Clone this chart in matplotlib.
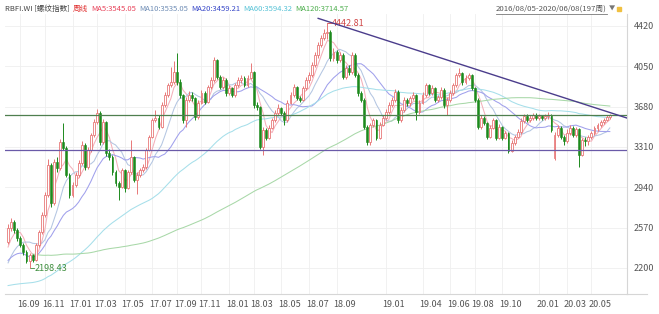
import numpy as np
import pandas as pd
import matplotlib
matplotlib.use("Agg")
import matplotlib.pyplot as plt

plt.rcParams['font.family'] = ['Noto Sans CJK SC', 'DejaVu Sans']

# weekly closes before the first visible bar (only used for the long MAs)
hist_close = [3050, 3030, 3000, 2980, 2990, 2970, 2950, 2930, 2900,
              2900, 2920, 2940, 2950, 2920, 2900,
              3000, 2980, 2950, 2900, 2850, 2780, 2700, 2650,
              2620, 2600, 2580, 2560, 2520, 2500, 2480, 2510,
              2480, 2450, 2470, 2440, 2420, 2400, 2380, 2390, 2360,
              2340, 2320, 2300, 2320, 2350, 2400, 2420, 2450, 2480, 2440, 2400,
              2350, 2300, 2280, 2250, 2200, 2180, 2150, 2120,
              2100, 2080, 2120, 2100, 2060, 2040, 2000, 1980, 1960,
              1930, 1900, 1880, 1860, 1850, 1820, 1800, 1780,
              1760, 1720, 1700, 1680, 1660, 1680, 1700, 1720,
              1740, 1760, 1780, 1790, 1800, 1830, 1880,
              1950, 2050, 2150, 2200, 2300, 2450, 2600, 2550,
              2350, 2200, 2050, 2000, 2050, 2100, 2150, 2200,
              2250, 2320, 2380, 2440]

close = [2566, 2620, 2547, 2474, 2410, 2345, 2263, 2318, 2272, 2410,
         2529, 2685, 2869, 3144, 2795, 3172, 3117, 3355, 3300, 3052,
         2869, 2960, 3052, 3162, 3328, 3126, 3282, 3419, 3539, 3621,
         3355, 3539, 3254, 3217, 3080, 2979, 2942, 3098, 2933, 3080,
         3217, 3006, 3052, 3098, 3126, 3282, 3401, 3557, 3575, 3493,
         3695, 3787, 3878, 3906, 3998, 3906, 3787, 3557, 3741, 3787,
         3759, 3585, 3713, 3805, 3722, 3860, 3924, 4108, 3952, 3860,
         3924, 3805, 3851, 3787, 3878, 3924, 3943, 3878, 3943, 3998,
         3695, 3676, 3309, 3465, 3392, 3484, 3557, 3621, 3667, 3621,
         3557, 3713, 3787, 3860, 3759, 3741, 3851, 3924, 3970, 4062,
         4154, 4246, 4310, 4356, 4365, 4126, 4181, 4108, 4154, 3952,
         4034, 3998, 4154, 3970, 3805, 3741, 3493, 3355, 3511, 3557,
         3392, 3511, 3575, 3631, 3695, 3741, 3814, 3557, 3649, 3741,
         3713, 3759, 3787, 3631, 3713, 3787, 3878, 3805, 3851, 3741,
         3768, 3832, 3695, 3741, 3805, 3878, 3970, 3989, 3906, 3943,
         3970, 3851, 3741, 3493, 3575, 3530, 3401, 3484, 3557, 3392,
         3493, 3392, 3438, 3272, 3346, 3401, 3447, 3550, 3590, 3560,
         3580, 3605, 3575, 3590, 3575, 3590, 3605, 3465, 3420, 3480,
         3400, 3360, 3440, 3480, 3420, 3470, 3240, 3370, 3360, 3400,
         3440, 3480, 3510, 3540, 3560, 3585, 3600]

high = [2600, 2660, 2640, 2570, 2490, 2430, 2360, 2340, 2330, 2430,
        2550, 2710, 2900, 3200, 3160, 3200, 3220, 3380, 3530, 3320,
        3070, 2990, 3080, 3190, 3360, 3350, 3310, 3440, 3570, 3660,
        3640, 3570, 3550, 3290, 3240, 3100, 3000, 3120, 3110, 3100,
        3374, 3230, 3080, 3120, 3150, 3300, 3420, 3580, 3650, 3600,
        3720, 3810, 3900, 4044, 4100, 4170, 3930, 3800, 3770, 3820,
        3810, 3770, 3740, 3830, 3820, 3880, 3950, 4135, 4120, 3970,
        3950, 3940, 3880, 3860, 3900, 3950, 3970, 3960, 3970, 4080,
        4010, 3720, 3690, 3490, 3480, 3510, 3580, 3650, 3700, 3680,
        3640, 3740, 3810, 3890, 3870, 3780, 3870, 3950, 4000, 4090,
        4180, 4270, 4340, 4390, 4442.81, 4380, 4220, 4200, 4180, 4170,
        4060, 4060, 4180, 4170, 3990, 3820, 3760, 3510, 3530, 3580,
        3570, 3540, 3600, 3660, 3720, 3770, 3840, 3830, 3680, 3770,
        3760, 3780, 3810, 3800, 3740, 3810, 3900, 3890, 3880, 3860,
        3790, 3860, 3850, 3770, 3830, 3900, 3990, 4030, 4000, 3970,
        3990, 3980, 3860, 3760, 3600, 3590, 3540, 3510, 3580, 3570,
        3520, 3500, 3460, 3450, 3370, 3420, 3470, 3575, 3615, 3610,
        3600, 3625, 3620, 3610, 3605, 3610, 3630, 3610, 3450, 3510,
        3500, 3420, 3470, 3510, 3500, 3490, 3480, 3395, 3400, 3420,
        3460, 3500, 3530, 3560, 3580, 3605, 3615]

low = [2420, 2540, 2520, 2450, 2390, 2320, 2240, 2198.43, 2250, 2260,
       2390, 2510, 2670, 2850, 2760, 2780, 3080, 3100, 3280, 3030,
       2840, 2850, 2940, 3030, 3140, 3100, 3110, 3260, 3400, 3520,
       3330, 3340, 3230, 3190, 3050, 2950, 2823, 2930, 2900, 2920,
       3060, 2990, 2880, 3030, 3080, 3110, 3270, 3390, 3540, 3470,
       3480, 3680, 3770, 3860, 3890, 3880, 3760, 3530, 3493, 3720,
       3730, 3560, 3570, 3700, 3700, 3710, 3840, 3910, 3930, 3840,
       3840, 3780, 3790, 3770, 3770, 3860, 3900, 3860, 3860, 3930,
       3670, 3650, 3290, 3236, 3370, 3380, 3470, 3540, 3600, 3600,
       3510, 3540, 3700, 3770, 3740, 3720, 3730, 3830, 3900, 3950,
       4040, 4130, 4230, 4290, 4300, 4100, 4100, 4080, 4090, 3930,
       3930, 3970, 3980, 3950, 3780, 3720, 3470, 3330, 3330, 3490,
       3370, 3380, 3500, 3560, 3610, 3680, 3720, 3530, 3540, 3630,
       3690, 3690, 3740, 3560, 3610, 3700, 3770, 3790, 3790, 3720,
       3720, 3750, 3670, 3603, 3720, 3790, 3860, 3950, 3880, 3890,
       3920, 3830, 3720, 3470, 3470, 3510, 3380, 3390, 3470, 3370,
       3380, 3370, 3380, 3254, 3260, 3330, 3390, 3430, 3530, 3540,
       3540, 3560, 3555, 3560, 3555, 3560, 3570, 3450, 3190, 3400,
       3380, 3330, 3350, 3420, 3400, 3400, 3126, 3225, 3320, 3330,
       3380, 3420, 3460, 3490, 3520, 3545, 3570]

first_open = 2440
gap_open = {178: 3210}   # weeks that opened away from the prior close

x_labels = ['16.09', '16.11', '17.01', '17.03', '17.05', '17.07', '17.09',
            '17.11', '18.01', '18.03', '18.05', '18.07', '18.09', '19.01',
            '19.04', '19.06', '19.08', '19.10', '20.01', '20.03', '20.05']
holiday_weeks = ['2016-10-07', '2017-10-06', '2018-10-05', '2019-02-08', '2019-10-04']

ma_names = ['MA5', 'MA10', 'MA20', 'MA60', 'MA120']
ma_header = ['3545.05', '3535.05', '3459.21', '3594.32', '3714.57']
ma_text_colors = ['#e8435a', '#6f8db5', '#3848c8', '#56c2d6', '#4cae4c']
ma_line_colors = ['#f4b0ba', '#b4c6e2', '#a0a0ec', '#a6dfea', '#a8d8a8']

# ---- derived
n = len(close)
opens = [first_open] + close[:-1]
for k, v in gap_open.items():
    opens[k] = v
o = np.array(opens, float)
c = np.array(close, float)
h = np.array(high, float)
l = np.array(low, float)
idx = np.arange(n)

full = pd.Series(hist_close + close, dtype=float)
mas = {}
for name in ma_names:
    w = int(name[2:])
    mas[name] = full.rolling(w).mean().values[len(hist_close):]

weeks = pd.date_range('2016-08-05', periods=n + len(holiday_weeks), freq='W-FRI')
weeks = weeks[~weeks.isin(pd.to_datetime(holiday_weeks))]
tick_pos = []
for lab in x_labels:
    yy, mm = 2000 + int(lab[:2]), int(lab[3:])
    hit = np.where((weeks.year == yy) & (weeks.month == mm))[0]
    tick_pos.append(hit[0])

fig = plt.figure(figsize=(6.59, 3.14), dpi=100)
ax = fig.add_axes([5 / 659, 20 / 314, 622 / 659, 280 / 314])
ax.set_xlim(-1, 201.6)
ax.set_ylim(1960, 4530)

yt = [2200, 2570, 2940, 3310, 3680, 4050, 4420]
ax.set_yticks(yt)
ax.yaxis.tick_right()
ax.tick_params(axis='y', length=0, pad=5, labelsize=6.5, labelcolor='#555555')
ax.set_xticks(tick_pos)
ax.set_xticklabels([])
ax.tick_params(axis='x', length=0)
for tp, lab in zip(tick_pos, x_labels):
    ax.text(tp - 1, -0.02, lab, transform=ax.get_xaxis_transform(), ha='left',
            va='top', fontsize=6.5, color='#555555')
ax.grid(True, color='#efefef', lw=0.6)
ax.set_axisbelow(True)
for s in ['top', 'left']:
    ax.spines[s].set_visible(False)
ax.spines['right'].set_color('#d6d6d6')
ax.spines['bottom'].set_color('#d6d6d6')
fig.add_artist(plt.Line2D([627 / 659, 647 / 659], [20 / 314, 20 / 314],
                          color='#d6d6d6', lw=0.8))

# MA lines
for name, col in zip(ma_names, ma_line_colors):
    ax.plot(idx, mas[name], color=col, lw=0.75, zorder=2)

# candles
up = c >= o
wcol = np.where(up, '#e87878', '#1d8a1d')
ax.vlines(idx, l, h, colors=wcol, lw=0.7, zorder=3)
ax.bar(idx[up], (c - o)[up], bottom=o[up], width=0.62, color='white',
       edgecolor='#e87878', lw=0.6, zorder=4)
ax.bar(idx[~up], (o - c)[~up], bottom=c[~up], width=0.62, color='#1d8a1d',
       edgecolor='#1d8a1d', lw=0.4, zorder=4)

# drawn lines
ax.axhline(3600, color='#4f7f4f', lw=0.9, zorder=5)
ax.axhline(3280, color='#6a5aa8', lw=0.9, zorder=5)
ax.plot([101, 201.6], [4490, 3575], color='#4b3d8c', lw=1.0, zorder=5)

# extreme labels
imax = int(np.argmax(h))
imin = int(np.argmin(l))
ax.plot([imax, imax + 1.6], [h[imax], h[imax]], color='#d04848', lw=0.6)
ax.text(imax + 1.6, h[imax], f'{h[imax]:.2f}', color='#d04848', fontsize=6.5, va='center')
ax.plot([imin, imin + 1.6], [l[imin], l[imin]], color='#3f8f3f', lw=0.6)
ax.text(imin + 1.6, l[imin], f'{l[imin]:.2f}', color='#3f8f3f', fontsize=6.5, va='center')

# header, laid out piece by piece
fig.canvas.draw()
rend = fig.canvas.get_renderer()
pieces = [('RBFI.WI [螺纹指数]', '#444444'), ('周线', '#e03030')]
pieces += [(f'{nm}:{v}', col) for nm, v, col in zip(ma_names, ma_header, ma_text_colors)]
xp = 5
yhead = 1 - 9 / 314
for txt, col in pieces:
    t = fig.text(xp / 659, yhead, txt, fontsize=5.5, color=col, va='center')
    xp += t.get_window_extent(rend).width + 3

rng = f'{weeks[0]:%Y/%m/%d}-2020/06/08({n}周)'
t = fig.text(607 / 659, yhead, rng, fontsize=5.6, color='#555555', va='center', ha='right')
bb = t.get_window_extent(rend)
fig.add_artist(plt.Line2D([bb.x0 / 659, 607 / 659], [1 - 14 / 314, 1 - 14 / 314],
                          color='#777777', lw=0.6))
fig.text(609 / 659, yhead, '▼', fontsize=4.5, color='#777777', va='center')
fig.add_artist(plt.Rectangle((617 / 659, 1 - 11 / 314), 4 / 659, 4 / 314,
                             color='#f0c040', transform=fig.transFigure))

fig.savefig('out.png', dpi=100)
